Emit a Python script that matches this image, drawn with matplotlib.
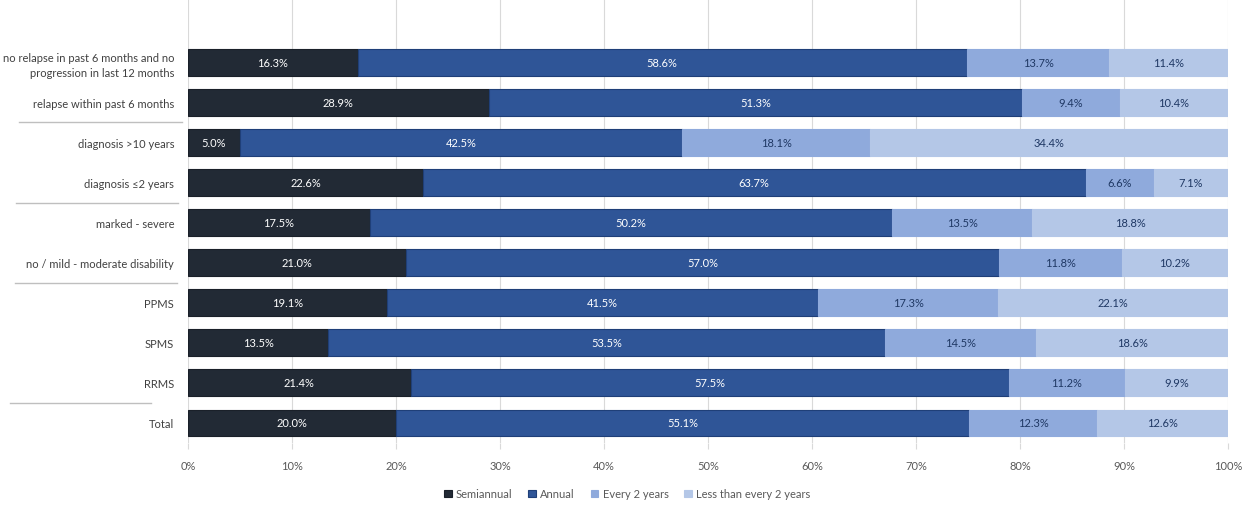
import numpy as np
import matplotlib
matplotlib.use('Agg')
import matplotlib.pyplot as plt
import matplotlib.transforms as mtransforms

# data (top to bottom as in the chart)
categories = ['no relapse in past 6 months and no\nprogression in last 12 months',
              'relapse within past 6 months',
              'diagnosis >10 years',
              'diagnosis \u22642 years',
              'marked - severe',
              'no / mild - moderate disability',
              'PPMS',
              'SPMS',
              'RRMS',
              'Total']
semiannual = [16.3, 28.9, 5.0, 22.6, 17.5, 21.0, 19.1, 13.5, 21.4, 20.0]
annual = [58.6, 51.3, 42.5, 63.7, 50.2, 57.0, 41.5, 53.5, 57.5, 55.1]
every2 = [13.7, 9.4, 18.1, 6.6, 13.5, 11.8, 17.3, 14.5, 11.2, 12.3]
less2 = [11.4, 10.4, 34.4, 7.1, 18.8, 10.2, 22.1, 18.6, 9.9, 12.6]
series_names = ['Semiannual', 'Annual', 'Every 2 years', 'Less than every 2 years']

colors = ['#222a35', '#2f5597', '#8faadc', '#b4c7e7']
edges = ['#1a2029', '#1f3f78', '#8faadc', '#b4c7e7']
text_colors = ['white', 'white', '#1f3864', '#1f3864']

plt.rcParams['font.family'] = ['Lato', 'DejaVu Sans']
fs = 8

fig = plt.figure(figsize=(12.47, 5.06), dpi=100)
ax = fig.add_axes([188 / 1247, 1 - 444 / 506, 1040 / 1247, 444 / 506])

y = np.arange(len(categories))[::-1]
left = np.zeros(len(categories))
for vals, name, c, ec, tc in zip([semiannual, annual, every2, less2], series_names, colors, edges, text_colors):
    vals = np.array(vals)
    ax.barh(y, vals, left=left, height=0.67, color=c, edgecolor=ec, linewidth=0.8,
            label=name, zorder=3)
    for yi, l, v in zip(y, left, vals):
        ax.text(l + v / 2, yi, f'{v:.1f}%', ha='center', va='center', color=tc,
                fontsize=fs, zorder=4)
    left = left + vals

ax.set_xlim(0, 100)
ax.set_ylim(-0.5, 10.58)
ax.set_xticks(np.arange(0, 101, 10))
ax.set_xticklabels([f'{t}%' for t in range(0, 101, 10)], fontsize=fs, color='#595959')
ax.set_yticks(y)
ax.set_yticklabels(categories, fontsize=fs, color='#404040', linespacing=1.45)
ax.tick_params(axis='y', length=0, pad=10)
ax.tick_params(axis='x', length=4, color='#d9d9d9', pad=8)
ax.grid(True, axis='x', color='#d9d9d9', linewidth=0.8, zorder=0)
for s in ax.spines.values():
    s.set_visible(False)

# group separator lines in the label area
trans = mtransforms.blended_transform_factory(fig.transFigure, ax.transData)
for ysep, x0, x1 in [(7.5, 19, 182), (5.5, 16, 178), (3.5, 15, 177), (0.5, 10, 151)]:
    ax.plot([x0 / 1247, x1 / 1247], [ysep, ysep], transform=trans, color='#bfbfbf',
            linewidth=1.0, clip_on=False)

fig.legend(loc='center', bbox_to_anchor=(0.503, 0.022), ncol=4, frameon=False,
           fontsize=fs, handlelength=0.7, handleheight=0.7, handletextpad=0.4,
           columnspacing=1.4, labelcolor='#595959')

fig.savefig('out.png', dpi=100)
